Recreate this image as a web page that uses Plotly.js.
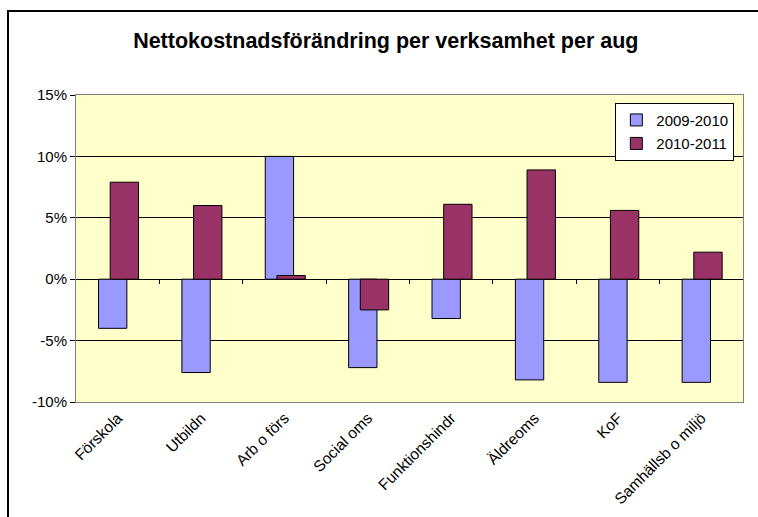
<!DOCTYPE html>
<html>
<head>
<meta charset="utf-8">
<script src="https://cdn.plot.ly/plotly-3.0.1.min.js"></script>
<style>
html,body{margin:0;padding:0;background:#fff;}
#wrap{position:relative;width:758px;height:517px;overflow:hidden;}
#chart{width:758px;height:517px;}
#frame{position:absolute;left:7px;top:10px;width:800px;height:600px;border:2px solid #000;pointer-events:none;}
</style>
</head>
<body>
<div id="wrap"><div id="chart"></div><div id="frame"></div></div>
<script>
const categories = ["Förskola","Utbildn","Arb o förs","Social oms","Funktionshindr","Äldreoms","KoF","Samhällsb o miljö"];
const series1Name = "2009-2010";
const series1 = [-4.0, -7.6, 10.0, -7.2, -3.2, -8.2, -8.4, -8.4];
const series2Name = "2010-2011";
const series2 = [7.9, 6.0, 0.3, -2.5, 6.1, 8.9, 5.6, 2.2];
const yTicks = [-10, -5, 0, 5, 10, 15];
const boundaryTicks = [0.5, 1.5, 2.5, 3.5, 4.5, 5.5, 6.5];

const font = "Liberation Sans, Arial, sans-serif";
const traces = [
  {type:'bar', x:categories, y:series1, name:series1Name, legendgroup:'a',
   marker:{color:'#9999FF', line:{color:'#000', width:1}},
   width:0.34, offset:-0.23, hoverinfo:'y'},
  {type:'bar', x:categories, y:series2, name:series2Name, legendgroup:'b',
   marker:{color:'#993366', line:{color:'#000', width:1}},
   width:0.34, offset:-0.09, hoverinfo:'y'},
  {type:'scatter', x:[0], y:[0], xaxis:'x2', mode:'markers',
   marker:{opacity:0}, showlegend:false, hoverinfo:'skip'}
];
const layout = {
  width:758, height:517,
  margin:{l:76, r:15, t:95, b:115},
  paper_bgcolor:'rgba(0,0,0,0)',
  plot_bgcolor:'#FFFFCC',
  barmode:'overlay',
  font:{family:font, size:15, color:'#000'},
  title:{text:'<b>Nettokostnadsförändring per verksamhet per aug</b>',
         font:{family:font, size:21.5, color:'#000'},
         x:0.509, xanchor:'center', y:0.922, yanchor:'middle'},
  xaxis:{type:'category', tickangle:-45, tickfont:{family:font, size:15.5},
         showgrid:false, showline:true, mirror:true, linecolor:'#808080', linewidth:1,
         ticks:'', range:[-0.5,7.5], fixedrange:true},
  xaxis2:{overlaying:'x', anchor:'free', position:0.4, range:[-0.5,7.5],
          tickvals:boundaryTicks, showticklabels:false, ticks:'outside', ticklen:4,
          tickcolor:'#000', showgrid:false, showline:false, zeroline:false, side:'bottom'},
  yaxis:{range:[-10,15], tickvals:yTicks, ticktext:yTicks.map(v=>v+'%'),
         showgrid:true, gridcolor:'#000', gridwidth:1,
         zeroline:true, zerolinecolor:'#000', zerolinewidth:1,
         showline:true, mirror:true, linecolor:'#808080', linewidth:1,
         ticks:'outside', ticklen:5, tickcolor:'#000', tickfont:{family:font, size:15},
         fixedrange:true},
  legend:{x:0.987, y:0.975, xanchor:'right', yanchor:'top',
          bgcolor:'#fff', bordercolor:'#000', borderwidth:1,
          traceorder:'grouped', tracegroupgap:1,
          font:{family:font, size:15}, itemwidth:30},
  showlegend:true
};
Plotly.newPlot('chart', traces, layout, {displayModeBar:false, staticPlot:true});
</script>
</body>
</html>
